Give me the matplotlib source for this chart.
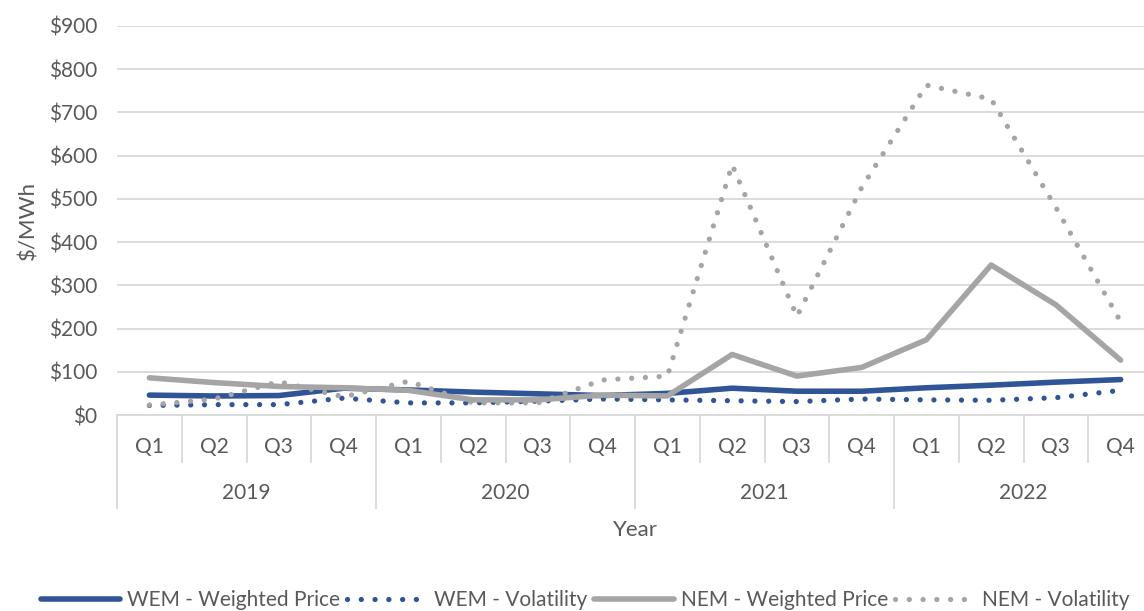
import matplotlib
matplotlib.use("Agg")
import matplotlib.pyplot as plt
from matplotlib.lines import Line2D

plt.rcParams['font.family'] = ['Lato', 'DejaVu Sans']

years = ["2019", "2020", "2021", "2022"]
quarters = ["Q1", "Q2", "Q3", "Q4"]

wem_price = [46, 44, 45, 62, 58, 53, 49, 45, 50, 62, 55, 55, 63, 69, 76, 82]
wem_vol = [22, 24, 24, 39, 28, 28, 32, 37, 35, 33, 31, 37, 35, 34, 40, 57]
nem_price = [86, 75, 66, 63, 57, 35, 35, 46, 44, 140, 90, 110, 174, 347, 255, 127]
nem_vol = [23, 37, 77, 42, 78, 28, 28, 81, 90, 579, 228, 526, 763, 731, 480, 216]

BLUE = "#2F5597"
GREY = "#A5A5A5"
TXT = "#595959"
GRID = "#D9D9D9"

fig = plt.figure(figsize=(11.44, 6.11), dpi=100)
ax = fig.add_axes([117/1144, 1-415/611, 1036/1144, 389/611])

n = len(wem_price)
x = list(range(n))
dot = (0, (0.01, 2.6))
ax.plot(x, wem_price, color=BLUE, lw=4, solid_capstyle='round', solid_joinstyle='round', label="WEM - Weighted Price")
ax.plot(x, wem_vol, color=BLUE, lw=3.8, linestyle=dot, dash_capstyle='round', label="WEM - Volatility")
ax.plot(x, nem_price, color=GREY, lw=4, solid_capstyle='round', solid_joinstyle='round', label="NEM - Weighted Price")
ax.plot(x, nem_vol, color=GREY, lw=3.8, linestyle=dot, dash_capstyle='round', label="NEM - Volatility")

ax.set_xlim(-0.5, n - 0.5)
ax.set_ylim(0, 900)
ax.set_yticks(range(0, 901, 100))
ax.set_yticklabels([f"${v}" for v in range(0, 901, 100)], fontsize=15, color=TXT)
ax.tick_params(axis='y', length=0, pad=14)
ax.set_xticks([])
ax.grid(axis='y', color=GRID, lw=1.3)
ax.set_axisbelow(True)
for s in ['top', 'right', 'left']:
    ax.spines[s].set_visible(False)
ax.spines['bottom'].set_color(GRID)
ax.spines['bottom'].set_linewidth(1.3)

ax.set_ylabel("$/MWh", fontsize=16, color=TXT, labelpad=8)

tr = ax.get_xaxis_transform()
for i in range(n + 1):
    xb = i - 0.5
    bottom = -0.239 if i % 4 == 0 else -0.121
    ax.add_line(Line2D([xb, xb], [0, bottom], transform=tr, color=GRID, lw=1.3, clip_on=False))
for i in range(n):
    ax.text(i, -0.082, quarters[i % 4], transform=tr, ha='center', va='center', fontsize=15, color=TXT)
for j, yr in enumerate(years):
    ax.text(j * 4 + 1.5, -0.2, yr, transform=tr, ha='center', va='center', fontsize=15, color=TXT)
ax.text(0.5, -0.296, "Year", transform=ax.transAxes, ha='center', va='center', fontsize=16, color=TXT)

fig.legend(loc='center', bbox_to_anchor=(585/1144, 1-600/611), ncol=4, frameon=False,
           fontsize=15, handlelength=3.8, handletextpad=0.35, columnspacing=0.35,
           labelcolor=TXT)

fig.savefig("out.png", dpi=100)
